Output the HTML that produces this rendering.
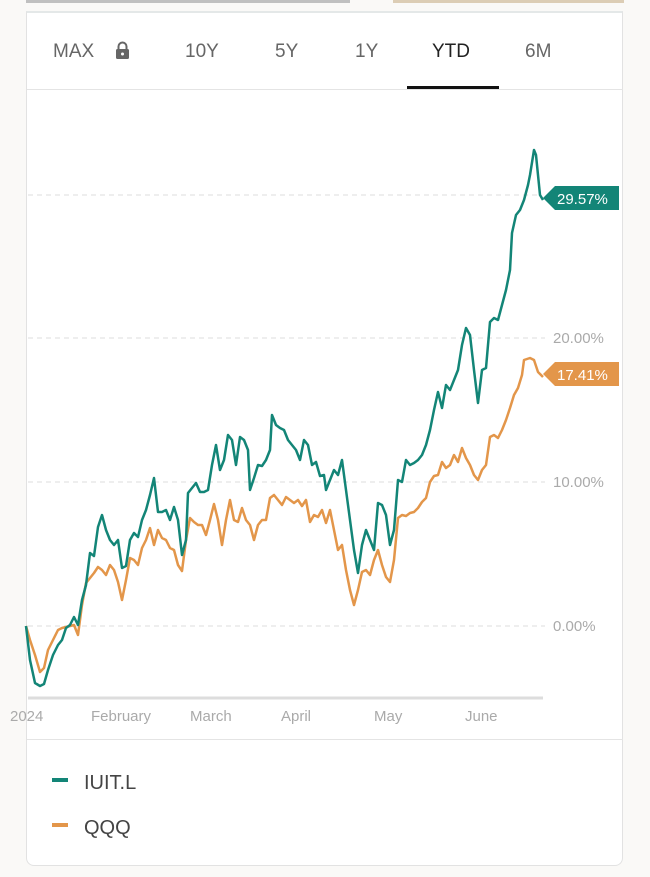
<!DOCTYPE html>
<html><head><meta charset="utf-8"><style>
body{margin:0;width:650px;height:877px;background:#faf9f7;font-family:"Liberation Sans",sans-serif;overflow:hidden;position:relative}
.card{position:absolute;left:26px;top:11px;width:597px;height:855px;background:#fff;border:1px solid #e2e2e2;border-top:2px solid #e4e8e8;border-radius:0 0 8px 8px;box-sizing:border-box}
.t{position:absolute;top:41px;font-size:19px;color:#666}
</style></head><body>
<div style="position:absolute;left:26px;top:0;width:324px;height:3px;background:#c0c0c0"></div>
<div style="position:absolute;left:393px;top:0;width:231px;height:3px;background:#dccdb5"></div>
<div class="card"></div>
<div style="position:absolute;left:27px;top:89px;width:596px;height:1px;background:#e4e4e4"></div>
<div style="position:absolute;left:27px;top:739px;width:596px;height:1px;background:#e4e4e4"></div>
<div class="t" style="left:53px">MAX</div>
<svg style="position:absolute;left:115px;top:41px" width="15" height="19"><path d="M3.5 8V5.5a4 4 0 0 1 8 0V8" stroke="#666" stroke-width="2" fill="none"/><rect x="1" y="8" width="13" height="10" rx="1.5" fill="#666"/><circle cx="7.5" cy="13" r="1.5" fill="#fff"/></svg>
<div class="t" style="left:185px">10Y</div>
<div class="t" style="left:275px">5Y</div>
<div class="t" style="left:355px">1Y</div>
<div class="t" style="left:432px;color:#222">YTD</div>
<div class="t" style="left:525px">6M</div>
<div style="position:absolute;left:407px;top:86px;width:92px;height:3px;background:#111"></div>
<svg style="position:absolute;left:0;top:0" width="650" height="877">
<g stroke="#ddd" stroke-dasharray="5,4" stroke-width="1">
<line x1="28" y1="195" x2="540" y2="195"/><line x1="28" y1="338" x2="545" y2="338"/><line x1="28" y1="482" x2="545" y2="482"/><line x1="28" y1="626" x2="545" y2="626"/></g>
<g font-size="15" fill="#aaa" font-family="Liberation Sans,sans-serif">
<text x="553" y="343">20.00%</text><text x="553" y="487">10.00%</text><text x="553" y="631">0.00%</text>
<text x="10" y="721">2024</text><text x="91" y="721">February</text><text x="190" y="721">March</text><text x="281" y="721">April</text><text x="374" y="721">May</text><text x="465" y="721">June</text></g>
<line x1="28" y1="698" x2="543" y2="698" stroke="#ddd" stroke-width="3"/>
<polyline fill="none" stroke="#e3964a" stroke-width="2.5" stroke-linejoin="round" points="26,626 30,640 35,655 40,672 44,668 48,650 53,640 58,630 62,628 66,627 70,626 74,625 78,635 82,605 86,583 90,578 94,573 98,567 102,570 106,575 110,565 114,570 118,582 122,600 126,580 130,558 134,560 138,565 142,548 146,540 150,528 154,545 158,530 162,538 166,540 170,548 174,550 178,565 182,571 186,540 190,518 194,522 198,525 202,525 206,535 210,520 214,504 218,520 222,545 226,520 230,500 234,520 238,522 242,508 246,520 250,525 254,540 258,525 262,520 266,520 270,498 274,495 278,500 282,505 286,497 290,500 294,503 298,500 302,506 306,500 310,522 314,515 318,517 322,510 326,523 330,510 334,530 338,550 342,545 346,570 350,590 354,605 358,590 362,572 366,570 370,575 374,560 378,550 382,565 386,577 390,582 394,560 398,518 402,515 406,516 410,513 414,512 418,508 422,502 426,498 430,482 434,476 438,475 442,462 446,468 450,465 454,455 458,462 462,448 466,458 470,465 474,475 478,480 482,470 486,465 490,437 494,435 498,438 502,430 506,420 510,408 514,395 518,388 522,375 524,360 530,358 534,360 538,372 543,377"/>
<polyline fill="none" stroke="#138577" stroke-width="2.5" stroke-linejoin="round" points="26,626 30,660 35,683 40,686 44,684 48,670 53,655 58,645 62,640 66,628 70,625 74,617 78,625 82,600 86,585 90,553 94,556 98,527 102,515 106,530 110,540 114,545 118,540 122,568 126,566 130,540 134,533 138,537 142,520 146,510 150,495 154,478 158,512 162,512 166,510 170,520 174,507 178,520 182,555 186,540 188,493 192,488 196,483 200,492 204,492 208,490 212,465 216,445 220,470 224,460 228,435 232,440 236,465 240,437 244,440 248,450 250,490 254,478 258,465 262,466 266,460 270,450 272,415 276,425 280,428 284,430 288,440 292,445 296,450 300,460 304,440 308,445 312,465 316,462 320,476 324,475 326,490 330,480 334,470 338,475 342,460 346,490 350,520 354,550 358,573 362,545 366,530 370,540 374,550 378,503 382,505 386,515 390,545 394,530 398,480 402,482 406,460 410,465 414,463 418,460 422,455 426,445 430,430 434,410 438,392 442,408 446,385 450,390 454,380 458,370 462,345 466,328 470,335 474,370 478,403 482,370 486,368 490,322 494,318 498,320 502,305 506,290 510,270 512,233 516,215 520,210 524,200 528,185 530,175 534,150 536,155 540,195 543,200"/>
<polygon points="543,198 555,186 619,186 619,210 555,210" fill="#138577"/>
<text x="557" y="204" font-size="15" fill="#fff" font-family="Liberation Sans,sans-serif">29.57%</text>
<polygon points="543,374 555,362 619,362 619,386 555,386" fill="#e3964a"/>
<text x="557" y="380" font-size="15" fill="#fff" font-family="Liberation Sans,sans-serif">17.41%</text>
<rect x="52" y="778" width="16" height="4" fill="#138577"/>
<rect x="52" y="823" width="16" height="4" fill="#e3964a"/>
<g font-size="20" fill="#444" font-family="Liberation Sans,sans-serif"><text x="84" y="789">IUIT.L</text><text x="84" y="834">QQQ</text></g>
</svg>
</body></html>
